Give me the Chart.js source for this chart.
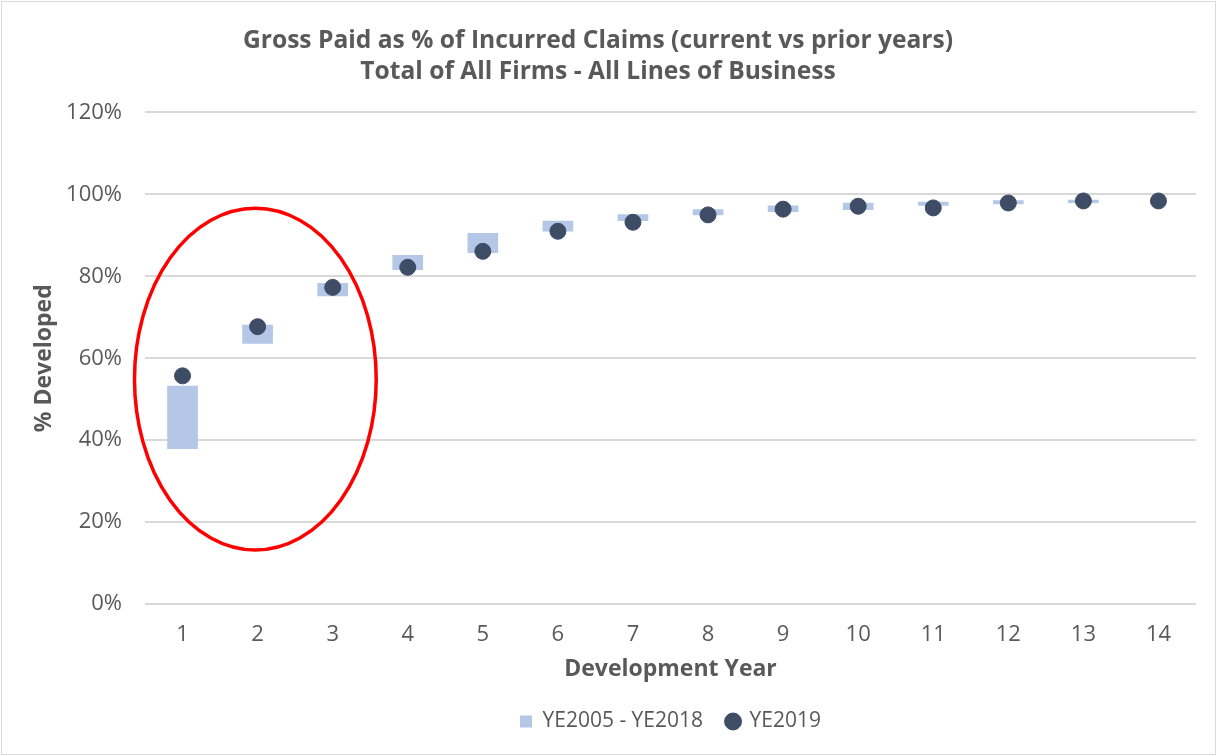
<!DOCTYPE html>
<html>
<head>
<meta charset="utf-8">
<script src="https://cdn.jsdelivr.net/npm/chart.js@4/dist/chart.umd.min.js"></script>
<style>
html,body{margin:0;padding:0;background:#fff;}
#wrap{position:relative;width:1217px;height:756px;}
canvas{display:block;}
</style>
</head>
<body>
<div id="wrap"><canvas id="c" width="1217" height="756"></canvas></div>
<script>
const categories = ['1','2','3','4','5','6','7','8','9','10','11','12','13','14'];
const rangeLow  = [37.9, 63.6, 75.2, 81.6, 85.8, 91.0, 93.6, 95.0, 95.8, 96.3, 97.3, 97.7, 98.0, null];
const rangeHigh = [53.2, 68.1, 78.3, 85.1, 90.5, 93.5, 95.1, 96.3, 97.2, 97.9, 98.1, 98.5, 98.6, null];
const ye2019    = [55.7, 67.7, 77.3, 82.2, 86.1, 91.0, 93.2, 95.0, 96.4, 97.1, 96.7, 97.9, 98.4, 98.4];
const yTicks = [0, 20, 40, 60, 80, 100, 120];
const titleLines = ['Gross Paid as % of Incurred Claims (current vs prior years)', 'Total of All Firms - All Lines of Business'];
// highlight ellipse in data units (category index, percent)
const ellipseCenter = [0.97, 54.9];
const ellipseRadius = [1.61, 41.7];

const barData = rangeLow.map((lo, i) => (lo === null ? null : [lo, rangeHigh[i]]));
const grey = '#595959';
const FONT = "'Open Sans', sans-serif";

const ellipsePlugin = {
  id: 'ellipse',
  afterDatasetsDraw(chart) {
    const x = chart.scales.x, y = chart.scales.y, ctx = chart.ctx;
    const cx = x.getPixelForValue(ellipseCenter[0]);
    const cy = y.getPixelForValue(ellipseCenter[1]);
    const rx = Math.abs(x.getPixelForValue(ellipseCenter[0] + ellipseRadius[0]) - cx);
    const ry = Math.abs(y.getPixelForValue(ellipseCenter[1] + ellipseRadius[1]) - cy);
    ctx.save();
    ctx.beginPath();
    ctx.ellipse(cx, cy, rx, ry, 0, 0, Math.PI * 2);
    ctx.strokeStyle = '#FF0000';
    ctx.lineWidth = 3.5;
    ctx.stroke();
    ctx.restore();
  }
};
const framePlugin = {
  id: 'frame',
  afterDraw(chart) {
    const ctx = chart.ctx;
    ctx.save();
    ctx.strokeStyle = '#d9d9d9';
    ctx.lineWidth = 1;
    ctx.strokeRect(1.5, 1.5, chart.width - 3, chart.height - 3);
    ctx.restore();
  }
};

new Chart(document.getElementById('c'), {
  type: 'bar',
  data: {
    labels: categories,
    datasets: [
      {
        label: 'YE2005 - YE2018',
        data: barData,
        backgroundColor: '#B4C7E7',
        borderWidth: 0,
        barThickness: 30,
        pointStyle: 'rect',
        order: 2
      },
      {
        type: 'line',
        label: 'YE2019',
        data: ye2019,
        showLine: false,
        pointRadius: 8,
        pointHoverRadius: 8,
        pointBackgroundColor: '#3E4C66',
        pointBorderColor: '#3E4C66',
        backgroundColor: '#3E4C66',
        borderColor: '#3E4C66',
        pointStyle: 'circle',
        order: 1
      }
    ]
  },
  options: {
    responsive: false,
    animation: false,
    layout: { padding: { left: 0, right: 21, top: 0, bottom: 14 } },
    plugins: {
      tooltip: { enabled: false },
      title: {
        display: true,
        text: titleLines,
        color: grey,
        font: { family: FONT, size: 24.6, weight: 'bold', lineHeight: 1.27 },
        padding: { top: 25, bottom: 25 }
      },
      legend: {
        position: 'bottom',
        fullSize: false,
        labels: {
          usePointStyle: true,
          color: grey,
          font: { family: FONT, size: 21 },
          padding: 24,
          boxHeight: 12,
          boxWidth: 12,
          sort: (a, b) => a.datasetIndex - b.datasetIndex
        }
      }
    },
    scales: {
      x: {
        grid: { display: false, drawTicks: false },
        border: { display: false },
        afterFit: (scale) => { scale.height = 83; },
        ticks: { color: grey, font: { family: FONT, size: 22 }, padding: 18 },
        title: {
          display: true,
          text: 'Development Year',
          color: grey,
          font: { family: FONT, size: 23, weight: 'bold' },
          padding: { top: 4, bottom: 4 }
        }
      },
      y: {
        min: 0,
        max: 120,
        afterBuildTicks: (scale) => { scale.ticks = yTicks.map(v => ({ value: v })); },
        afterFit: (scale) => { scale.width = 145; },
        grid: { color: '#d9d9d9', lineWidth: 2, drawTicks: false },
        border: { display: false },
        ticks: {
          color: grey,
          font: { family: FONT, size: 22 },
          padding: 23,
          callback: (v) => v + '%'
        },
        title: {
          display: true,
          text: '% Developed',
          color: grey,
          font: { family: FONT, size: 23, weight: 'bold' },
          padding: { top: 31, bottom: 0 }
        }
      }
    }
  },
  plugins: [ellipsePlugin, framePlugin]
});
</script>
</body>
</html>
